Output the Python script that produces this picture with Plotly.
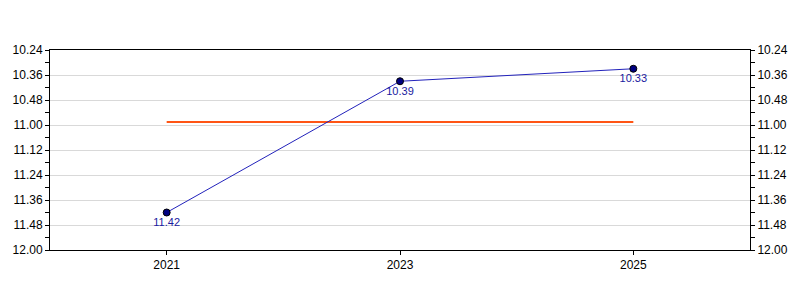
import plotly.graph_objects as go

years = ["2021", "2023", "2025"]
times_sec = [702, 639, 633]          # 11:42, 10:39, 10:33
time_labels = ["11.42", "10.39", "10.33"]
avg_sec = [658.5, 658.5]             # average line
avg_years = ["2021", "2025"]
tick_vals = [624, 636, 648, 660, 672, 684, 696, 708, 720]
tick_text = ["10.24", "10.36", "10.48", "11.00", "11.12", "11.24", "11.36", "11.48", "12.00"]

fig = go.Figure()
fig.add_trace(go.Scatter(
    x=avg_years, y=avg_sec, mode="lines",
    line=dict(color="#ff5515", width=2), hoverinfo="skip", showlegend=False,
))
fig.add_trace(go.Scatter(
    x=years, y=times_sec, mode="lines+markers+text",
    text=time_labels, textposition="bottom center",
    textfont=dict(family="Liberation Sans, Arial, sans-serif", size=11, color="#1a1aa0"),
    line=dict(color="#2222bb", width=1),
    marker=dict(size=7, color="#000080", line=dict(color="#000000", width=1)),
    showlegend=False,
))
# invisible trace for right axis
fig.add_trace(go.Scatter(x=years, y=times_sec, yaxis="y2", mode="markers",
                         marker=dict(opacity=0), hoverinfo="skip", showlegend=False))

yax = dict(
    range=[720, 624], tickmode="array", tickvals=tick_vals, ticktext=tick_text,
    ticks="outside", ticklen=4, tickcolor="#000", showline=True, linecolor="#000", linewidth=1,
    tickfont=dict(family="Liberation Sans, Arial, sans-serif", size=12, color="#000"),
    minor=dict(ticks="outside", ticklen=4, dtick=6, tick0=624, tickcolor="#000", showgrid=False),
    zeroline=False,
)
fig.update_layout(
    width=800, height=300,
    margin=dict(l=50, r=50, t=50, b=50),
    paper_bgcolor="white", plot_bgcolor="white",
    xaxis=dict(type="category", categoryorder="array", categoryarray=years,
               range=[-0.5, 2.5], showline=True, linecolor="#000", linewidth=1,
               mirror=True, ticks="outside", ticklen=4, tickcolor="#000", showgrid=False,
               tickfont=dict(family="Liberation Sans, Arial, sans-serif", size=12, color="#000")),
    yaxis=dict(**yax, showgrid=True, gridcolor="#d9d9d9", gridwidth=1, side="left"),
    yaxis2=dict(**yax, showgrid=False, side="right", overlaying="y"),
)
fig.write_html("out.html")
